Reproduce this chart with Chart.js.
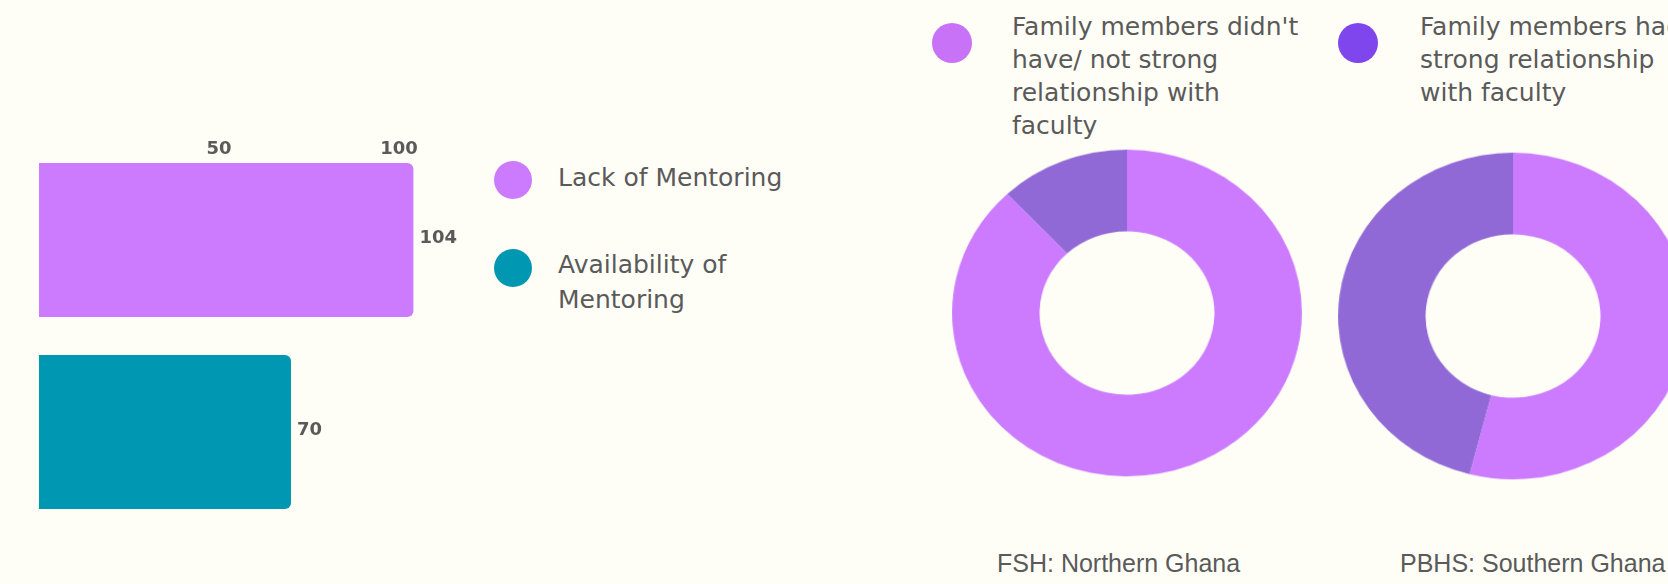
<!DOCTYPE html>
<html>
<head>
<meta charset="utf-8">
<title>Mentoring and family relationship with faculty</title>
<script src="https://cdn.jsdelivr.net/npm/chart.js@4.4.1/dist/chart.umd.min.js"></script>
<style>
  html, body { margin: 0; padding: 0; }
  body {
    position: relative;
    width: 1668px;
    height: 584px;
    overflow: hidden;
    background: #fefef6;
    font-family: "DejaVu Sans", sans-serif;
    color: #5a5a5a;
  }
  canvas { position: absolute; }
  /* the reference rings are a little wider than tall */
  .donut { transform: scale(1.06, 0.99); transform-origin: 50% 50%; }
  .dot { position: absolute; border-radius: 50%; }
  .text { position: absolute; white-space: nowrap; font-size: 25px; }
  .caption {
    position: absolute;
    white-space: nowrap;
    font-family: "Liberation Sans", Arial, sans-serif;
    font-size: 25px;
    line-height: 30px;
  }
</style>
</head>
<body>
<canvas id="barChart" width="480" height="584" style="left:0;top:0"></canvas>
<canvas id="fshChart" class="donut" width="330" height="330" style="left:962px;top:148px"></canvas>
<canvas id="pbhsChart" class="donut" width="330" height="330" style="left:1348px;top:151px"></canvas>

<script>
// Bar chart data
const mentoringCategories = ['Lack of Mentoring', 'Availability of Mentoring'];
const mentoringValues = [104, 70];
const mentoringColors = ['#cc7bff', '#0097b2'];
const mentoringTicks = [50, 100];

// Doughnut data (share of respondents, %)
const relationLabels = [
    ['Family members didn\'t', 'have/ not strong', 'relationship with', 'faculty'],
    ['Family members had', 'strong relationship', 'with faculty']
];
const relationColors = ['#cc7bff', '#9069d6'];
const relationLegendColors = ['#c872f7', '#7f46ee'];
const regionNames = ['FSH: Northern Ghana', 'PBHS: Southern Ghana'];
const fshValues = [88, 12];
const pbhsValues = [54, 46];

const textColor = '#5a5a5a';

// Value labels at the end of each bar
const valueLabels = {
    id: 'valueLabels',
    afterDatasetsDraw(chart) {
        const ctx = chart.ctx;
        const meta = chart.getDatasetMeta(0);
        ctx.save();
        ctx.font = 'bold 18px "DejaVu Sans"';
        ctx.fillStyle = textColor;
        ctx.textBaseline = 'middle';
        meta.data.forEach((bar, i) => {
            ctx.fillText(String(chart.data.datasets[0].data[i]), bar.x + 6, bar.y - 2);
        });
        ctx.restore();
    }
};

new Chart(document.getElementById('barChart'), {
    type: 'bar',
    data: {
        labels: mentoringCategories,
        datasets: [{
            data: mentoringValues,
            backgroundColor: mentoringColors,
            borderRadius: 6,
            borderSkipped: 'start',
            categoryPercentage: 0.9,
            barPercentage: 0.89
        }]
    },
    options: {
        indexAxis: 'y',
        responsive: false,
        animation: false,
        events: [],
        layout: { padding: { left: 39, right: 9, top: 144, bottom: 56 } },
        plugins: {
            legend: { display: false },
            tooltip: { enabled: false }
        },
        scales: {
            x: {
                position: 'top',
                min: 0,
                max: 120,
                grid: { display: false },
                border: { display: false },
                afterBuildTicks: scale => {
                    scale.ticks = mentoringTicks.map(v => ({ value: v }));
                },
                // mirrored labels sit just inside the top of the plot, axis takes no room
                afterFit: scale => { scale.height = 0; },
                ticks: {
                    mirror: true,
                    padding: -5,
                    color: textColor,
                    font: { family: 'DejaVu Sans', size: 18, weight: 'bold' }
                }
            },
            y: { display: false }
        }
    },
    plugins: [valueLabels]
});

function makeDonut(canvasId, values) {
    return new Chart(document.getElementById(canvasId), {
        type: 'doughnut',
        data: {
            labels: relationLabels.map(lines => lines.join(' ')),
            datasets: [{
                data: values,
                backgroundColor: relationColors,
                borderWidth: 0
            }]
        },
        options: {
            responsive: false,
            animation: false,
            events: [],
            cutout: '50%',
            plugins: {
                legend: { display: false },
                tooltip: { enabled: false }
            }
        }
    });
}

makeDonut('fshChart', fshValues);
makeDonut('pbhsChart', pbhsValues);

// HTML legends and captions
function addLegendItem(dotX, dotY, size, color, lines, textX, textY, lineHeight) {
    const dot = document.createElement('div');
    dot.className = 'dot';
    dot.style.left = (dotX - size / 2) + 'px';
    dot.style.top = (dotY - size / 2) + 'px';
    dot.style.width = size + 'px';
    dot.style.height = size + 'px';
    dot.style.background = color;
    document.body.appendChild(dot);

    const text = document.createElement('div');
    text.className = 'text';
    text.style.left = textX + 'px';
    text.style.top = textY + 'px';
    text.style.lineHeight = lineHeight + 'px';
    text.innerHTML = lines.join('<br>');
    document.body.appendChild(text);
}

addLegendItem(513, 180, 38, mentoringColors[0], ['Lack of Mentoring'], 558, 160, 35);
addLegendItem(513, 268, 38, mentoringColors[1], ['Availability of', 'Mentoring'], 558, 247, 35);

addLegendItem(952, 43, 40, relationLegendColors[0], relationLabels[0], 1012, 10, 33);
addLegendItem(1358, 43, 40, relationLegendColors[1], relationLabels[1], 1420, 10, 33);

[997, 1400].forEach((x, i) => {
    const cap = document.createElement('div');
    cap.className = 'caption';
    cap.style.left = x + 'px';
    cap.style.top = '548px';
    cap.textContent = regionNames[i];
    document.body.appendChild(cap);
});
</script>
</body>
</html>
